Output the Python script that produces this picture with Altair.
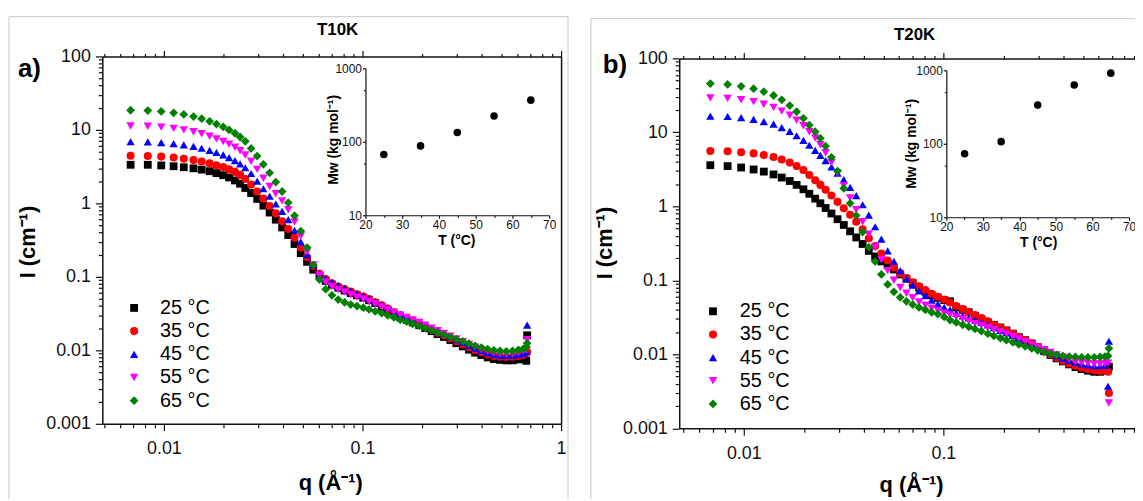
import altair as alt
import pandas as pd

FONT = "Liberation Sans"

# ---------------- data ----------------
temps = ["25 °C", "35 °C", "45 °C", "55 °C", "65 °C"]
series_colors = ["#000000", "#ff0000", "#0000ff", "#ff00ff", "#008000"]
series_shapes = ["square", "circle", "triangle-up", "triangle-down", "diamond"]
series_sizes = [62, 78, 92, 92, 105]

q = [0.0068, 0.0083, 0.0097, 0.0112, 0.0126, 0.0141, 0.0155, 0.0170, 0.0184, 0.0199,
     0.0213, 0.0228, 0.0242, 0.0257,
     0.0275, 0.0295, 0.0317, 0.0341, 0.0366, 0.0394, 0.0423, 0.0455, 0.0489, 0.0526, 0.0565,
     0.0608, 0.0653, 0.0702, 0.0755, 0.0812, 0.0873, 0.0938, 0.101, 0.108, 0.116, 0.125,
     0.134, 0.144, 0.155, 0.167, 0.179, 0.193, 0.207, 0.223, 0.239, 0.257, 0.277,
     0.297, 0.320, 0.344, 0.369, 0.397, 0.427, 0.459, 0.493, 0.530, 0.570, 0.610, 0.645, 0.668, 0.675]

# panel a) T10K
I_a_25 = [3.35, 3.35, 3.28, 3.2, 3.1, 3.0, 2.88, 2.74, 2.58, 2.42, 2.25, 2.05, 1.85, 1.62,
          1.38, 1.15, 0.93, 0.75, 0.6, 0.47, 0.37, 0.28, 0.21, 0.16, 0.125,
          0.102, 0.088, 0.078, 0.071, 0.065, 0.06, 0.056, 0.052, 0.048, 0.044, 0.039,
          0.035, 0.031, 0.028, 0.026, 0.024, 0.022, 0.02, 0.0182, 0.0166, 0.0152, 0.0138,
          0.0125, 0.0113, 0.0102, 0.0093, 0.0086, 0.008, 0.0076, 0.0074, 0.0073, 0.0073, 0.0075, 0.0077, 0.0072, 0.016]
I_a_35 = [4.45, 4.42, 4.33, 4.2, 4.05, 3.88, 3.7, 3.5, 3.3, 3.12, 2.92, 2.68, 2.44, 2.15,
          1.8, 1.45, 1.16, 0.92, 0.73, 0.57, 0.45, 0.34, 0.25, 0.185, 0.14,
          0.11, 0.093, 0.082, 0.074, 0.068, 0.063, 0.058, 0.054, 0.05, 0.045, 0.041,
          0.037, 0.033, 0.03, 0.027, 0.025, 0.023, 0.021, 0.019, 0.0174, 0.016, 0.0146,
          0.0133, 0.0121, 0.011, 0.0101, 0.0094, 0.0088, 0.0084, 0.0082, 0.0081, 0.0082, 0.0084, 0.0087, 0.0091, 0.0095]
I_a_45 = [6.9, 6.85, 6.7, 6.5, 6.25, 5.95, 5.62, 5.27, 4.92, 4.56, 4.2, 3.82, 3.45, 3.05,
          2.55, 2.0, 1.58, 1.25, 0.98, 0.78, 0.6, 0.43, 0.3, 0.2, 0.145,
          0.112, 0.095, 0.084, 0.076, 0.07, 0.064, 0.059, 0.055, 0.05, 0.046, 0.042,
          0.038, 0.034, 0.031, 0.028, 0.026, 0.024, 0.022, 0.02, 0.0183, 0.0168, 0.0153,
          0.014, 0.0128, 0.0117, 0.0107, 0.0099, 0.0093, 0.0089, 0.0086, 0.0085, 0.0086, 0.0088, 0.0091, 0.0096, 0.022]
I_a_55 = [11.3, 11.2, 10.9, 10.5, 10.0, 9.45, 8.85, 8.2, 7.55, 6.95, 6.4, 5.8, 5.2, 4.55,
          3.75, 2.9, 2.2, 1.7, 1.35, 1.08, 0.82, 0.56, 0.36, 0.22, 0.145,
          0.105, 0.085, 0.074, 0.067, 0.062, 0.057, 0.053, 0.05, 0.046, 0.043, 0.039,
          0.036, 0.033, 0.03, 0.028, 0.026, 0.024, 0.022, 0.02, 0.0185, 0.017, 0.0156,
          0.0143, 0.0131, 0.012, 0.011, 0.0102, 0.0096, 0.0092, 0.009, 0.0089, 0.009, 0.0093, 0.0097, 0.0102, 0.014]
I_a_65 = [18.5, 18.3, 17.8, 17.1, 16.2, 15.2, 14.2, 13.1, 12.0, 11.0, 10.0, 9.0, 8.0, 7.0,
          5.6, 4.4, 3.4, 2.6, 1.95, 1.45, 1.02, 0.68, 0.42, 0.25, 0.145,
          0.092, 0.068, 0.056, 0.049, 0.045, 0.042, 0.04, 0.038, 0.036, 0.034, 0.032,
          0.03, 0.028, 0.026, 0.0245, 0.023, 0.0215, 0.02, 0.0187, 0.0175, 0.0163, 0.0152,
          0.0142, 0.0132, 0.0123, 0.0115, 0.0109, 0.0104, 0.01, 0.0098, 0.0097, 0.0098, 0.0101, 0.0105, 0.011, 0.0125]

# panel b) T20K
I_b_25 = [3.6, 3.5, 3.35, 3.15, 2.95, 2.7, 2.45, 2.2, 1.95, 1.7, 1.48, 1.27, 1.1, 0.95,
          0.8, 0.67, 0.56, 0.46, 0.38, 0.31, 0.25, 0.21, 0.18, 0.16, 0.14,
          0.12, 0.105, 0.092, 0.08, 0.07, 0.063, 0.058, 0.054, 0.052, 0.043, 0.04,
          0.037, 0.033, 0.03, 0.027, 0.025, 0.023, 0.021, 0.019, 0.017, 0.0155, 0.014,
          0.0125, 0.011, 0.0098, 0.0088, 0.008, 0.0073, 0.0067, 0.0063, 0.006, 0.0058, 0.0058, 0.006, 0.0062, 0.0068]
I_b_35 = [5.6, 5.55, 5.4, 5.2, 4.95, 4.65, 4.3, 3.9, 3.5, 3.1, 2.65, 2.25, 1.95, 1.68,
          1.4, 1.15, 0.94, 0.77, 0.62, 0.49, 0.37, 0.29, 0.23, 0.185, 0.15,
          0.125, 0.107, 0.094, 0.083, 0.074, 0.066, 0.06, 0.055, 0.05, 0.045, 0.041,
          0.037, 0.034, 0.031, 0.028, 0.025, 0.023, 0.021, 0.019, 0.017, 0.0155, 0.014,
          0.0125, 0.0112, 0.01, 0.009, 0.0082, 0.0075, 0.007, 0.0066, 0.0063, 0.0061, 0.006, 0.006, 0.0058, 0.003]
I_b_45 = [16.6, 16.4, 15.8, 15.0, 14.0, 12.9, 11.6, 10.3, 9.0, 7.8, 6.7, 5.7, 4.9, 4.15,
          3.4, 2.8, 2.3, 1.8, 1.4, 1.05, 0.76, 0.53, 0.36, 0.25, 0.18,
          0.135, 0.105, 0.086, 0.072, 0.062, 0.054, 0.048, 0.043, 0.04, 0.036, 0.033,
          0.031, 0.029, 0.027, 0.025, 0.023, 0.021, 0.0195, 0.018, 0.0165, 0.015, 0.0138,
          0.0126, 0.0115, 0.0105, 0.0096, 0.0089, 0.0083, 0.0078, 0.0074, 0.0072, 0.007, 0.007, 0.0071, 0.0037, 0.015]
I_b_55 = [29.3, 28.8, 27.6, 26.0, 24.0, 21.8, 19.4, 17.0, 14.6, 12.3, 10.2, 8.4, 6.8, 5.3,
          3.9, 2.8, 1.9, 1.3, 0.9, 0.62, 0.42, 0.28, 0.19, 0.135, 0.1,
          0.08, 0.067, 0.058, 0.051, 0.046, 0.042, 0.039, 0.036, 0.034, 0.032, 0.03,
          0.028, 0.026, 0.0245, 0.023, 0.0215, 0.02, 0.0187, 0.0173, 0.016, 0.0148, 0.0136,
          0.0125, 0.0115, 0.0106, 0.0098, 0.0091, 0.0085, 0.008, 0.0077, 0.0075, 0.0074, 0.0074, 0.0075, 0.0076, 0.0022]
I_b_65 = [45.7, 44.5, 42.0, 39.0, 35.5, 31.5, 27.5, 23.0, 19.0, 15.5, 12.5, 10.2, 8.3, 6.5,
          4.6, 3.0, 1.75, 1.1, 0.75, 0.45, 0.28, 0.18, 0.12, 0.088, 0.07,
          0.059, 0.052, 0.047, 0.043, 0.04, 0.037, 0.035, 0.032, 0.029, 0.027, 0.025,
          0.0235, 0.022, 0.0205, 0.019, 0.0178, 0.0166, 0.0155, 0.0145, 0.0136, 0.0128, 0.012,
          0.0113, 0.0107, 0.0102, 0.0098, 0.0095, 0.0093, 0.0092, 0.0091, 0.0091, 0.0091, 0.0092, 0.0093, 0.0095, 0.012]

# insets: Mw vs T
T_inset = [25, 35, 45, 55, 65]
Mw_a = [67, 88, 134, 225, 369]
Mw_b = [73, 107, 336, 630, 915]

# ticks
q_major = [0.01, 0.1, 1]
q_minor = [0.005, 0.006, 0.007, 0.008, 0.009, 0.02, 0.03, 0.04, 0.05, 0.06, 0.07, 0.08, 0.09,
           0.2, 0.3, 0.4, 0.5, 0.6, 0.7, 0.8, 0.9]
I_major = [0.001, 0.01, 0.1, 1, 10, 100]
I_minor = [0.002, 0.003, 0.004, 0.005, 0.006, 0.007, 0.008, 0.009,
           0.02, 0.03, 0.04, 0.05, 0.06, 0.07, 0.08, 0.09,
           0.2, 0.3, 0.4, 0.5, 0.6, 0.7, 0.8, 0.9,
           2, 3, 4, 5, 6, 7, 8, 9,
           20, 30, 40, 50, 60, 70, 80, 90]
T_major = [20, 30, 40, 50, 60, 70]
T_minor = [25, 35, 45, 55, 65]
Mw_major = [10, 100, 1000]
Mw_minor = [50, 500]

# texts
panel_titles = ["T10K", "T20K"]
panel_tags = ["a)", "b)"]
y_title = "I (cm\u207b\u00b9)"
x_title = "q (\u00c5\u207b\u00b9)"
inset_x_title = "T (\u00b0C)"
inset_y_title = "Mw (kg mol\u207b\u00b9)"

# ---------------- layout ----------------
W, H = 1135, 493


def ax(orient, pos, values=None, labels=True, tick=7, domain=True, ticks=True,
       fs=18, pad=5, fmt="~g", dw=1.5):
    if orient == "bottom":
        off = pos - H
    elif orient == "right":
        off = pos - W
    else:
        off = -pos
    kw = dict(orient=orient, offset=off, grid=False, title=None, labels=labels,
              domain=domain, ticks=ticks, domainColor="#111111", domainWidth=dw,
              tickColor="#111111", tickWidth=1.2, labelColor="#111111", labelFont=FONT,
              labelFontSize=fs, labelPadding=pad, labelFlush=False, labelOverlap=False)
    if ticks:
        kw["tickSize"] = tick
    if values is not None:
        kw["values"] = values
    if labels:
        kw["format"] = fmt
    return alt.Axis(**kw)


def log_scale(dom, rng):
    return alt.Scale(type="log", domain=dom, range=rng, nice=False)


def lin_scale(dom, rng):
    return alt.Scale(type="linear", domain=dom, range=rng, nice=False, zero=False)


color_enc = alt.Color("T:N", scale=alt.Scale(domain=temps, range=series_colors), legend=None)
shape_enc = alt.Shape("T:N", scale=alt.Scale(domain=temps, range=series_shapes), legend=None)
size_enc = alt.Size("T:O", scale=alt.Scale(domain=temps, range=series_sizes), legend=None)


def series_frame(values_list):
    rows = []
    for t, vals in zip(temps, values_list):
        for qq, v in zip(q, vals):
            rows.append({"q": qq, "I": v, "T": t})
    return pd.DataFrame(rows)


def main_layers(df, xdom, xr, yr, bottom, left, top, right):
    xs = log_scale(xdom, xr)
    ys = log_scale([0.001, 100], yr)
    qM = [v for v in q_major if xdom[0] <= v <= xdom[1]]
    qm = [v for v in q_minor if xdom[0] <= v <= xdom[1]]
    pts = alt.Chart(df).mark_point(filled=True, opacity=1).encode(
        x=alt.X("q:Q", scale=xs, axis=ax("bottom", bottom, qM, pad=9)),
        y=alt.Y("I:Q", scale=ys, axis=ax("left", left, I_major, pad=5)),
        color=color_enc, shape=shape_enc, size=size_enc)
    base = alt.Chart(df).mark_point(opacity=0)
    minor = base.encode(
        x=alt.X("q:Q", scale=xs, axis=ax("bottom", bottom, qm, labels=False, tick=4, domain=False)),
        y=alt.Y("I:Q", scale=ys, axis=ax("left", left, I_minor, labels=False, tick=4, domain=False)))
    if right is not None:
        yr_axis = ax("right", right, labels=False, ticks=False)
    else:
        yr_axis = None
    topM = base.encode(
        x=alt.X("q:Q", scale=xs, axis=ax("top", top, qM, labels=False, tick=6)),
        y=alt.Y("I:Q", scale=ys, axis=yr_axis))
    topm = base.encode(
        x=alt.X("q:Q", scale=xs, axis=ax("top", top, qm, labels=False, tick=3, domain=False)),
        y=alt.Y("I:Q", scale=ys, axis=None))
    return [minor, topM, topm, pts]


def inset_layers(mw, xr, yr, bottom, left):
    d = pd.DataFrame({"temp": T_inset, "Mw": mw})
    xs = lin_scale([20, 70], xr)
    ys = log_scale([10, 1000], yr)
    pts = alt.Chart(d).mark_circle(size=58, color="black", opacity=1).encode(
        x=alt.X("temp:Q", scale=xs, axis=ax("bottom", bottom, T_major, tick=3, fs=12, pad=1, fmt="d", dw=1.2)),
        y=alt.Y("Mw:Q", scale=ys, axis=ax("left", left, Mw_major, tick=3, fs=12, pad=1, fmt="d", dw=1.2)))
    minor = alt.Chart(d).mark_point(opacity=0).encode(
        x=alt.X("temp:Q", scale=xs, axis=ax("bottom", bottom, T_minor, labels=False, tick=2, domain=False)),
        y=alt.Y("Mw:Q", scale=ys, axis=ax("left", left, Mw_minor, labels=False, tick=2, domain=False)))
    return [minor, pts]


def legend_layers(mx, tx, r0, r1):
    d = pd.DataFrame({"T": temps})
    ys = alt.Scale(type="point", domain=temps, range=[r0, r1], padding=0)
    pts = alt.Chart(d).mark_point(filled=True, opacity=1).encode(
        x=alt.value(mx), y=alt.Y("T:N", scale=ys, axis=None),
        color=color_enc, shape=shape_enc, size=size_enc)
    txt = alt.Chart(d).mark_text(align="left", baseline="middle", font=FONT, fontSize=20,
                                 color="black").encode(
        x=alt.value(tx), y=alt.Y("T:N", scale=ys, axis=None), text="T:N")
    return [pts, txt]


def text_layer(txt, x, y, size, bold=True, angle=None, align="center"):
    d = pd.DataFrame({"t": [txt]})
    kw = dict(font=FONT, fontSize=size, fontWeight="bold" if bold else "normal",
              color="black", align=align, baseline="middle")
    if angle is not None:
        kw["angle"] = angle
    return alt.Chart(d).mark_text(**kw).encode(x=alt.value(x), y=alt.value(y), text="t:N")


def rule(x, y, x2, y2):
    d = pd.DataFrame({"k": [0]})
    return alt.Chart(d).mark_rule(color="#c8c8c8", strokeWidth=1).encode(
        x=alt.value(x), y=alt.value(y), x2=alt.value(x2), y2=alt.value(y2))


df_a = series_frame([I_a_25, I_a_35, I_a_45, I_a_55, I_a_65])
df_b = series_frame([I_b_25, I_b_35, I_b_45, I_b_55, I_b_65])

layers = []
# panel frames (light grey boxes)
layers += [rule(1, 7, 1, H), rule(1, 7, 564, 7), rule(564, 7, 564, H),
           rule(587, 9, 587, H), rule(587, 9, W, 9)]
# panel a
layers += main_layers(df_a, [0.0049, 1], [95, 557], [417, 47], 417, 95, 47, 557)
layers += inset_layers(Mw_a, [360, 545], [207, 59], 207, 360)
layers += legend_layers(127, 153, 300.3, 393.7)
layers += [text_layer(panel_titles[0], 332, 20, 17),
           text_layer(panel_tags[0], 10, 60, 26, align="left"),
           text_layer(y_title, 20, 234, 22, angle=270),
           text_layer(x_title, 325, 477, 22),
           text_layer(inset_x_title, 452, 233, 14),
           text_layer(inset_y_title, 328, 131, 14, angle=270)]
# panel b
layers += main_layers(df_b, [0.00475, 0.912], [676, W], [421.5, 49], 421.5, 676, 49, None)
layers += inset_layers(Mw_b, [945, 1129], [209, 61], 209, 945)
layers += legend_layers(710, 737, 303.7, 397)
layers += [text_layer(panel_titles[1], 913, 25, 17),
           text_layer(panel_tags[1], 599, 56, 26, align="left"),
           text_layer(y_title, 601, 235, 22, angle=270),
           text_layer(x_title, 910, 479, 22),
           text_layer(inset_x_title, 1038, 235, 14),
           text_layer(inset_y_title, 910, 135, 14, angle=270)]

chart = alt.layer(*layers).resolve_scale(x="independent", y="independent").properties(
    width=W, height=H, padding=0, background="white",
    autosize=alt.AutoSizeParams(type="none"),
).configure_view(stroke=None)

chart.save("out.html", embed_options={"renderer": "svg", "actions": False})
